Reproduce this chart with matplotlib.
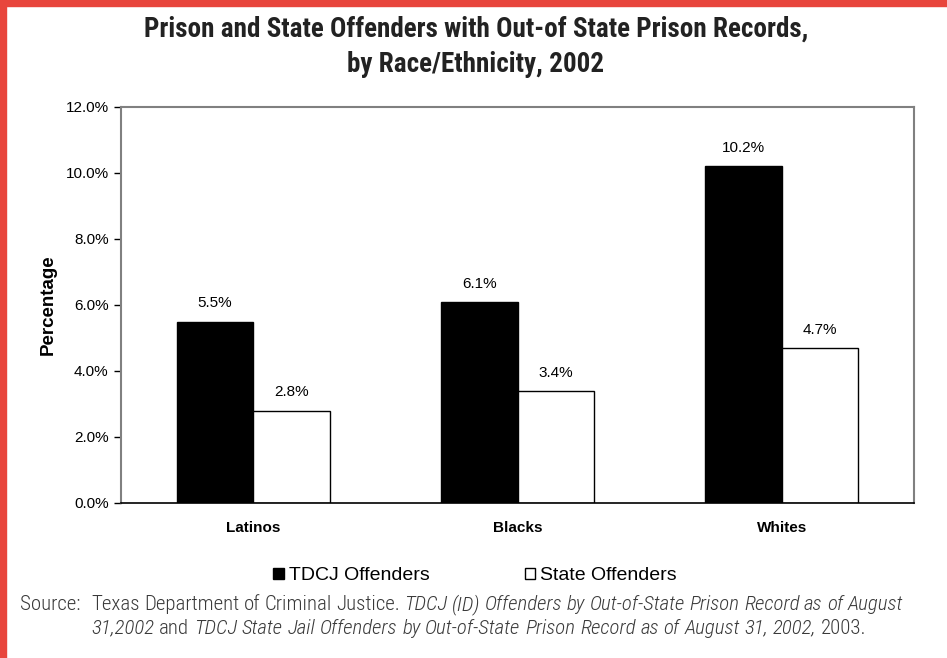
import matplotlib
matplotlib.use("Agg")
from matplotlib import pyplot as plt
from matplotlib.patches import Rectangle
import numpy as np

categories = ["Latinos", "Blacks", "Whites"]
tdcj_values = [5.5, 6.1, 10.2]
state_values = [2.8, 3.4, 4.7]
series_names = ["TDCJ Offenders", "State Offenders"]
title = "Prison and State Offenders with Out-of State Prison Records,\nby Race/Ethnicity, 2002"
# (text, italic) pieces of the two source lines
source_head = "Source:"
source_line1 = [("Texas Department of Criminal Justice.", False),
                ("TDCJ (ID) Offenders by Out-of-State Prison Record as of August", True)]
source_line2 = [("31,2002", True), ("and", False),
                ("TDCJ State Jail Offenders by Out-of-State Prison Record as of August 31, 2002,", True),
                ("2003.", False)]

NARROW = ["Roboto Condensed", "DejaVu Sans"]
BODY = ["Liberation Sans", "DejaVu Sans"]
W, H = 947, 658

fig = plt.figure(figsize=(W / 100, H / 100), dpi=100)
ax = fig.add_axes([121 / W, 1 - 503 / H, (914 - 121) / W, (503 - 107) / H])

x = np.arange(len(categories))
bar_width = 0.29
bars1 = ax.bar(x - bar_width / 2, tdcj_values, bar_width, color="black", edgecolor="black",
               linewidth=1, label=series_names[0])
bars2 = ax.bar(x + bar_width / 2, state_values, bar_width, color="white", edgecolor="black",
               linewidth=1, label=series_names[1])

# value labels above the bars
for bars, vals in ((bars1, tdcj_values), (bars2, state_values)):
    for b, v in zip(bars, vals):
        ax.annotate("%.1f%%" % v, (b.get_x() + b.get_width() / 2, v), xytext=(0, 8),
                    textcoords="offset points", ha="center", va="bottom",
                    fontsize=11, family=BODY)

ax.set_xlim(-0.5, 2.5)
ax.set_ylim(0, 12)
yt = np.arange(0, 12.1, 2)
ax.set_yticks(yt)
ax.set_yticklabels(["%.1f%%" % t for t in yt], family=BODY, fontsize=11)
ax.set_xticks(x)
ax.set_xticklabels(categories, family=BODY, fontsize=11, fontweight="bold")
ax.tick_params(axis="x", length=0, pad=13)
ax.tick_params(axis="y", length=5, width=1, direction="out", pad=4)
ax.set_ylabel("Percentage", family=BODY, fontsize=13.5, fontweight="bold", labelpad=6)

for side in ("top", "right", "left"):
    ax.spines[side].set_color("#808080")
    ax.spines[side].set_linewidth(1.5)
ax.spines["bottom"].set_color("black")
ax.spines["bottom"].set_linewidth(1.2)

fig.text(476 / W, 1 - 47 / H, title, ha="center", va="center", family=NARROW, fontsize=19.5,
         fontweight="bold", color="#222222", linespacing=1.4)

fig.legend(handles=[bars1, bars2], labels=series_names, loc="center",
           bbox_to_anchor=(475 / W, 1 - 576 / H), ncol=2, frameon=False,
           prop={"family": BODY, "size": 14}, handlelength=0.55, handleheight=0.55,
           handletextpad=0.25, columnspacing=4.9)

renderer = fig.canvas.get_renderer()


def write_line(pieces, x0, y0, x1=None):
    """place text pieces word by word; justify up to x1 if given"""
    words = []
    for s, italic in pieces:
        for w in s.split(" "):
            words.append((w, italic))
    texts = []
    for w, italic in words:
        t = fig.text(0, 1 - y0 / H, w, family=NARROW, fontsize=15, color="#3a3a3a",
                     fontweight="light", va="center", style="italic" if italic else "normal")
        texts.append(t)
    widths = [t.get_window_extent(renderer).width for t in texts]
    space = fig.text(0, 0, "a b", family=NARROW, fontsize=15)
    sp = space.get_window_extent(renderer).width
    space.remove()
    a = fig.text(0, 0, "ab", family=NARROW, fontsize=15)
    sp -= a.get_window_extent(renderer).width
    a.remove()
    if x1 is not None and len(words) > 1:
        sp = (x1 - x0 - sum(widths)) / (len(words) - 1)
    xpos = x0
    for t, w in zip(texts, widths):
        t.set_x(xpos / W)
        xpos += w + sp


fig.text(20 / W, 1 - 605 / H, source_head, family=NARROW, fontsize=15, color="#3a3a3a",
         fontweight="light", va="center")
write_line(source_line1, 91, 605, 903)
write_line(source_line2, 91, 628)

# red frame on the left and top
fig.patches.append(Rectangle((0, 0), 6 / W, 1, transform=fig.transFigure, color="#E8453C", zorder=5))
fig.patches.append(Rectangle((0, 1 - 6 / H), 1, 6 / H, transform=fig.transFigure, color="#E8453C", zorder=5))

fig.savefig("out.png", dpi=100)
